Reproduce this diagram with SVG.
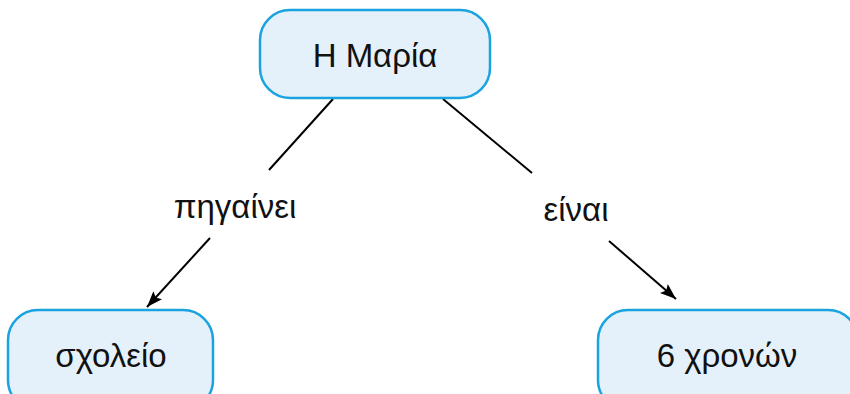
<svg xmlns="http://www.w3.org/2000/svg" width="850" height="394" viewBox="0 0 850 394">
<style>
.node rect{fill:#e4f1fa;stroke:#1aa3e0;stroke-width:2.5}
text{font-family:"Liberation Sans","DejaVu Sans",sans-serif;font-size:33px;fill:#111;text-anchor:middle}
.conn line{stroke:#000;stroke-width:2}
</style>
<defs>
<marker id="arr" viewBox="0 0 16 12" refX="16" refY="6" markerWidth="16" markerHeight="12" markerUnits="userSpaceOnUse" orient="auto">
<path d="M0,0 L16,6 L0,12 L3,6 z" fill="#000"/>
</marker>
</defs>
<rect width="850" height="394" fill="#fff"/>
<g class="conn">
<line x1="333" y1="99" x2="269" y2="170"/>
<line x1="210" y1="238" x2="147" y2="307" marker-end="url(#arr)"/>
<line x1="443" y1="99" x2="532" y2="173"/>
<line x1="609" y1="241" x2="676" y2="299" marker-end="url(#arr)"/>
</g>
<text x="235" y="218">πηγαίνει</text>
<text x="576" y="221">είναι</text>
<g id="maria" class="node">
<rect x="260" y="10" width="230" height="88" rx="30"/>
<text x="375" y="67">Η Μαρία</text>
</g>
<g id="sxoleio" class="node">
<rect x="8" y="310" width="205" height="100" rx="30"/>
<text x="111" y="367">σχολείο</text>
</g>
<g id="xronon" class="node">
<rect x="598" y="310" width="260" height="100" rx="30"/>
<text x="727" y="367">6 χρονών</text>
</g>
</svg>
